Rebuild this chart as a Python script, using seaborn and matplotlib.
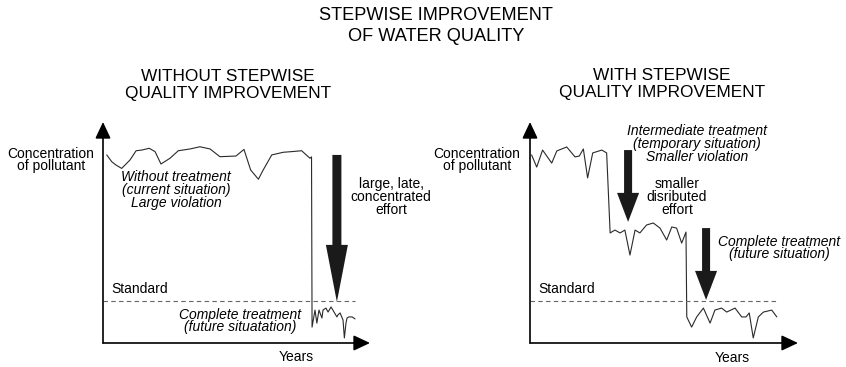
import matplotlib
matplotlib.use("Agg")
import matplotlib.pyplot as plt
from matplotlib.patches import FancyArrow
import seaborn as sns

sns.set_theme(style="white")
plt.rcParams["font.family"] = ["Liberation Sans", "DejaVu Sans"]

# Time (0-100 span of the years axis) and pollutant concentration (0-100 of axis height)
without_t = [1.4, 3.3, 4.9, 7.0, 10.1, 12.4, 14.5, 17.3, 19.5, 21.7, 25.1, 28.2, 32.6,
             36.3, 40.1, 43.8, 49.8, 52.8, 55.3, 58.2, 60.0, 63.2, 67.5, 70.7, 74.4,
             77.5, 78.1, 78.3, 79.4, 80.1, 80.9, 82.0, 82.4, 83.5, 84.3, 85.4, 86.1,
             87.6, 88.0, 88.8, 89.9, 90.4, 91.0, 91.4, 92.1, 93.3, 94.4]
without_c = [85.1, 82.0, 80.5, 79.0, 82.8, 87.0, 87.3, 88.1, 86.6, 81.0, 83.6, 87.0, 87.8,
             88.8, 87.8, 84.3, 84.6, 87.6, 78.3, 74.1, 78.3, 85.1, 86.3, 86.6, 87.0,
             83.6, 84.2, 7.2, 14.9, 9.0, 14.9, 11.3, 14.9, 15.8, 14.0, 16.3, 14.9,
             11.8, 12.7, 13.6, 10.4, 2.3, 9.0, 11.3, 11.8, 11.8, 10.9]

with_t = [0.6, 2.5, 4.7, 8.1, 10.0, 13.7, 16.8, 18.4, 19.9, 21.5, 23.4, 26.8, 28.6,
          29.9, 31.7, 33.6, 35.4, 37.3, 39.2, 41.0, 43.5, 46.0, 48.5, 51.0, 52.9,
          54.7, 56.6, 58.2, 58.5, 60.3, 62.2, 64.7, 67.2, 69.0, 71.5, 73.4, 76.5,
          79.0, 80.6, 81.8, 83.3, 85.2, 87.1, 90.2, 92.1]
with_c = [85.1, 79.6, 87.3, 81.4, 86.9, 88.7, 84.2, 84.6, 87.8, 74.7, 86.0, 87.3, 86.0,
          49.8, 51.1, 49.8, 51.1, 39.8, 51.1, 49.8, 53.4, 54.3, 52.0, 46.6, 52.5,
          52.0, 45.2, 50.2, 11.8, 7.2, 11.8, 15.8, 9.0, 14.9, 15.8, 14.0, 15.8,
          11.8, 11.8, 13.6, 2.3, 11.8, 14.0, 14.9, 11.8]

standard = 19.0
standard_end = [94.4, 92.2]

# Effort arrows: (time, start concentration, end concentration)
effort_without = [(87.6, 85.1, 18.6)]
effort_with = [(36.6, 87.3, 54.8), (65.7, 52.0, 19.5)]

W, H = 846, 367
fig = plt.figure(figsize=(W / 100, H / 100), dpi=100)
fig.patch.set_facecolor("white")


def px(x, y):
    return x / W, 1 - y / H


def panel(x0, x1):
    ax = fig.add_axes([x0 / W, (H - 343) / H, (x1 - x0) / W, (343 - 122) / H])
    ax.set_xlim(0, 100)
    ax.set_ylim(0, 100)
    ax.axis("off")
    ax.patch.set_alpha(0)
    head = dict(arrowstyle="-|>,head_length=1.0,head_width=0.47", mutation_scale=10,
                color="black", lw=1.2, shrinkA=0, shrinkB=0)
    ax.annotate("", xy=(0, 1), xytext=(0, 0), xycoords="axes fraction",
                arrowprops=head, annotation_clip=False)
    ax.annotate("", xy=(1, 0), xytext=(0, 0), xycoords="axes fraction",
                arrowprops=head, annotation_clip=False)
    return ax


def effort(ax, arrows, head_len_px, head_w_px, shaft_px):
    for t, c0, c1 in arrows:
        ax.add_patch(FancyArrow(t, c0, 0, c1 - c0, width=shaft_px / 2.67,
                                head_width=head_w_px / 2.67,
                                head_length=head_len_px / 2.21,
                                length_includes_head=True, color="#1a1a1a", lw=0))


line_kw = dict(color="#2a2a2a", lw=0.8, sort=False, estimator=None)
std_kw = dict(colors="#666666", lw=0.8, linestyles=(0, (4, 3)))

ax1 = panel(103, 370)
sns.lineplot(x=without_t, y=without_c, ax=ax1, **line_kw)
ax1.hlines(standard, 0, standard_end[0], **std_kw)
effort(ax1, effort_without, 57, 22, 9)
ax1.axis("off")

ax2 = panel(530, 798)
sns.lineplot(x=with_t, y=with_c, ax=ax2, **line_kw)
ax2.hlines(standard, 0, standard_end[1], **std_kw)
effort(ax2, effort_with, 29, 22, 8)
ax2.axis("off")

big = 12.4
small = 10
tight = 0.9


def label(x, y, s, size=small, style="normal", ls=tight):
    fig.text(*px(x, y), s, ha="center", va="center", fontsize=size,
             fontstyle=style, linespacing=ls, color="black")


label(436, 26, "STEPWISE IMPROVEMENT\nOF WATER QUALITY", size=13.1, ls=1.3)
label(228, 85, "WITHOUT STEPWISE\nQUALITY IMPROVEMENT", size=big, ls=1.2)
label(662, 84, "WITH STEPWISE\nQUALITY IMPROVEMENT", size=big, ls=1.2)

label(51, 160, "Concentration\nof pollutant")
label(477, 160, "Concentration\nof pollutant")

label(176, 190, "Without treatment\n(current situation)\nLarge violation", style="italic")
label(391, 197, "large, late,\nconcentrated\neffort")
label(140, 289, "Standard")
label(240, 321, "Complete treatment\n(future situatation)", style="italic")
label(296, 357, "Years")

label(697, 144, "Intermediate treatment\n(temporary situation)\nSmaller violation", style="italic")
label(677, 197, "smaller\ndisributed\neffort")
label(779, 248, "Complete treatment\n(future situation)", style="italic")
label(567, 289, "Standard")
label(732, 358, "Years")

fig.savefig("out.png", dpi=100, facecolor="white")
